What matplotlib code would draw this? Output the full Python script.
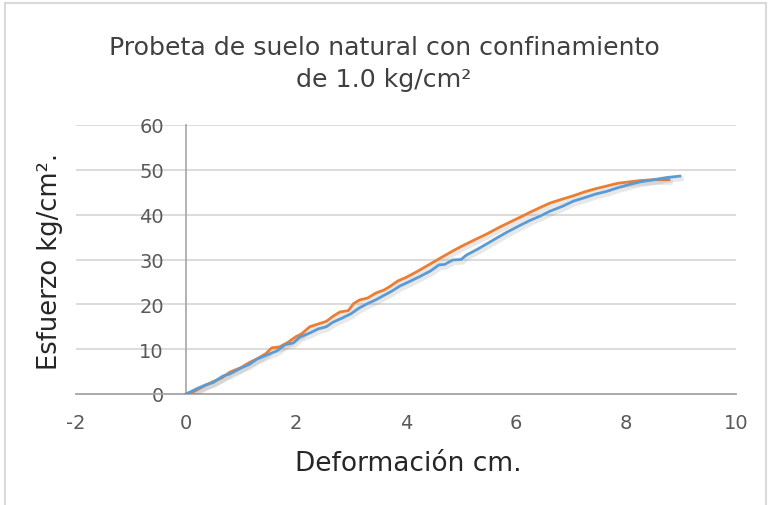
import matplotlib.pyplot as plt
import matplotlib.patheffects as pe
from matplotlib.patches import Rectangle

# serie azul (deformacion cm, esfuerzo kg/cm2)
def_azul = [0, 0.2, 0.35, 0.5, 0.67, 0.8, 1.0, 1.15, 1.29, 1.45, 1.65, 1.8, 1.95,
            2.07, 2.25, 2.4, 2.55, 2.67, 2.85, 3.0, 3.15, 3.29, 3.45, 3.6, 3.75,
            3.89, 4.05, 4.25, 4.44, 4.6, 4.7, 4.85, 5.0, 5.1, 5.3, 5.47, 5.65,
            5.85, 6.07, 6.25, 6.44, 6.62, 6.85, 7.04, 7.25, 7.45, 7.65, 7.85,
            8.05, 8.25, 8.5, 8.75, 8.98]
esf_azul = [0, 1.2, 2.0, 2.6, 4.0, 4.5, 5.8, 6.6, 7.8, 8.6, 9.6, 11.0, 11.4,
            12.7, 13.6, 14.5, 15.0, 16.0, 17.0, 17.9, 19.2, 20.1, 21.0, 22.0, 23.0,
            24.1, 25.0, 26.2, 27.4, 28.8, 28.9, 29.9, 30.0, 31.0, 32.3, 33.5, 34.8,
            36.2, 37.6, 38.7, 39.7, 40.8, 41.9, 43.0, 43.8, 44.6, 45.2, 46.0,
            46.7, 47.3, 47.8, 48.3, 48.6]

# serie naranja
def_naranja = [0, 0.15, 0.3, 0.5, 0.65, 0.8, 1.0, 1.15, 1.3, 1.45, 1.56, 1.7, 1.85,
               2.0, 2.1, 2.25, 2.4, 2.55, 2.68, 2.8, 2.95, 3.05, 3.16, 3.3, 3.45,
               3.6, 3.71, 3.85, 4.0, 4.2, 4.44, 4.65, 4.85, 5.05, 5.25, 5.47, 5.7,
               5.9, 6.07, 6.25, 6.44, 6.62, 6.85, 7.04, 7.25, 7.45, 7.65, 7.85,
               8.05, 8.25, 8.5, 8.78]
esf_naranja = [0, 0.6, 1.6, 2.8, 3.6, 4.9, 5.9, 7.0, 7.9, 9.0, 10.3, 10.5, 11.5,
               12.8, 13.4, 15.0, 15.6, 16.2, 17.4, 18.3, 18.6, 20.2, 21.0, 21.4, 22.5,
               23.2, 24.0, 25.2, 26.0, 27.3, 29.0, 30.5, 31.9, 33.2, 34.4, 35.7, 37.2,
               38.4, 39.4, 40.5, 41.6, 42.6, 43.5, 44.2, 45.1, 45.8, 46.4, 47.0,
               47.3, 47.6, 47.8, 47.8]

x_ticks = [-2, 0, 2, 4, 6, 8, 10]
y_ticks = [0, 10, 20, 30, 40, 50, 60]


def main():
    plt.rcParams['font.family'] = ['DejaVu Sans']
    plt.rcParams['axes.unicode_minus'] = False

    fig = plt.figure(figsize=(7.71, 5.06), dpi=100)
    ax = fig.add_axes([76 / 771, 1 - 395 / 506, 660 / 771, 269 / 506])

    sombra = [pe.SimpleLineShadow(offset=(1, -2), shadow_color='#808080',
                                  alpha=0.18, linewidth=3.5), pe.Normal()]
    ax.plot(def_naranja, esf_naranja, c='#ED7D31', lw=2.0, path_effects=sombra, zorder=3)
    ax.plot(def_azul, esf_azul, c='#5B9BD5', lw=2.0, path_effects=sombra, zorder=4)

    ax.set_xlim(-2, 10)
    ax.set_ylim(0, 60)
    ax.set_xticks(x_ticks)
    ax.set_yticks(y_ticks)
    ax.grid(axis='y', color='#d9d9d9', lw=1.3)
    ax.set_axisbelow(True)

    for s in ['top', 'right']:
        ax.spines[s].set_visible(False)
    ax.spines['left'].set_position(('data', 0))
    ax.spines['left'].set_color('#a6a6a6')
    ax.spines['bottom'].set_color('#a6a6a6')
    ax.spines['left'].set_linewidth(1.2)
    ax.spines['bottom'].set_linewidth(1.3)
    ax.tick_params(axis='y', length=0, pad=16, labelsize=14, labelcolor='#595959')
    ax.tick_params(axis='x', length=0, pad=14, labelsize=14, labelcolor='#595959')

    fig.text(384 / 771, 1 - 48 / 506, 'Probeta de suelo natural con confinamiento',
             ha='center', va='center', fontsize=18.2, color='#404040')
    fig.text(384 / 771, 1 - 80 / 506, 'de 1.0 kg/cm²',
             ha='center', va='center', fontsize=18.2, color='#404040')
    fig.text(408 / 771, 1 - 464 / 506, 'Deformación cm.',
             ha='center', va='center', fontsize=19, color='#262626')
    fig.text(50 / 771, 1 - 261 / 506, 'Esfuerzo kg/cm².', rotation=90,
             ha='center', va='center', fontsize=18.5, color='#262626')

    fig.patches.append(Rectangle((5 / 771, -0.01), 761 / 771, 1 - 4 / 506 + 0.01,
                                 transform=fig.transFigure, fill=False,
                                 edgecolor='#d9d9d9', lw=1.5))

    plt.savefig('out.png', dpi=100)


if __name__ == "__main__":
    main()
